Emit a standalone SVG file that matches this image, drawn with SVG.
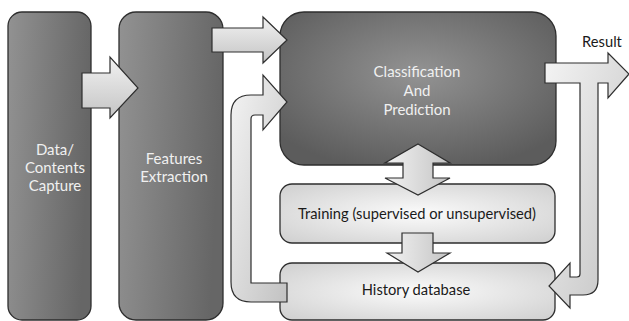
<svg xmlns="http://www.w3.org/2000/svg" width="629" height="321" viewBox="0 0 629 321">
<defs>
<linearGradient id="gDark" x1="0" y1="0" x2="1" y2="0.15">
<stop offset="0" stop-color="#929292"/><stop offset="1" stop-color="#666666"/>
</linearGradient>
<radialGradient id="gCls" cx="0.5" cy="0.4" r="0.65">
<stop offset="0" stop-color="#939393"/><stop offset="1" stop-color="#5c5c5c"/>
</radialGradient>
<radialGradient id="gLight" cx="0.5" cy="0.5" r="0.7">
<stop offset="0" stop-color="#fbfbfb"/><stop offset="1" stop-color="#cfcfcf"/>
</radialGradient>
<linearGradient id="gArrH" x1="0" y1="0" x2="0" y2="1">
<stop offset="0" stop-color="#f2f2f2"/><stop offset="1" stop-color="#c4c4c4"/>
</linearGradient>
<linearGradient id="gArrV" x1="0" y1="0" x2="1" y2="0">
<stop offset="0" stop-color="#f2f2f2"/><stop offset="1" stop-color="#c4c4c4"/>
</linearGradient>
<linearGradient id="gArrD" x1="0" y1="0" x2="1" y2="1">
<stop offset="0" stop-color="#f4f4f4"/><stop offset="1" stop-color="#c2c2c2"/>
</linearGradient>
</defs>
<style>
.dark{fill:url(#gDark);stroke:#2e2e2e;stroke-width:1.3}
.cls{fill:url(#gCls);stroke:#2e2e2e;stroke-width:1.3}
.light{fill:url(#gLight);stroke:#2e2e2e;stroke-width:1.3}
.arr{stroke:#2e2e2e;stroke-width:1.2;stroke-linejoin:miter}
.wt{font-family:Lato,"Open Sans","Liberation Sans",sans-serif;font-size:15px;fill:#f0f0f0;text-anchor:middle}
.bt{font-family:Lato,"Open Sans","Liberation Sans",sans-serif;font-size:14.7px;fill:#1a1a1a;text-anchor:middle}
</style>
<g id="capture">
<rect class="dark" x="8" y="12" width="83" height="308" rx="14"/>
<text class="wt" x="55" y="155">Data/</text>
<text class="wt" x="55" y="173">Contents</text>
<text class="wt" x="55" y="191">Capture</text>
</g>
<g id="features">
<rect class="dark" x="119" y="12" width="104" height="308" rx="17"/>
<text class="wt" x="174" y="164">Features</text>
<text class="wt" x="174" y="182">Extraction</text>
</g>
<g id="classification">
<rect class="cls" x="280" y="12" width="276" height="153" rx="24"/>
<text class="wt" x="417" y="77">Classification</text>
<text class="wt" x="417" y="96">And</text>
<text class="wt" x="417" y="115">Prediction</text>
</g>
<g id="training">
<rect class="light" x="280" y="184" width="275" height="59" rx="12"/>
<text class="bt" x="417" y="219">Training (supervised or unsupervised)</text>
</g>
<g id="history">
<rect class="light" x="280" y="263" width="275" height="57" rx="12"/>
<text class="bt" x="416" y="295">History database</text>
</g>
<g id="connectors">
<path class="arr" fill="url(#gArrH)" d="M82,73 H110 V57 L138,88 L110,118 V108 H82 Z"/>
<path class="arr" fill="url(#gArrH)" d="M212,28 H263 V17 L287,40 L263,63 V52 H212 Z"/>
<path class="arr" fill="url(#gArrD)" d="M287,302 H251 Q231,302 231,282 V115 Q231,95 251,95 H263 V75 L287,102 L263,130 V115 H255 Q251,115 251,119 V283 H287 Z"/>
<path class="arr" fill="url(#gArrD)" d="M545,63 H608 V53 L629,74 L608,98 V83 H598 V280 Q598,295 583,295 H570 V308 L549,286 L570,263 V277 H577 Q580,277 580,274 V83 H545 Z"/>
<path class="arr" fill="url(#gArrV)" d="M418,144 L450,163 H433 V178 H450 L418,195 L385,178 H403 V163 H385 Z"/>
<path class="arr" fill="url(#gArrV)" d="M402,233 H433 V253 H450 L418,272 L387,253 H402 Z"/>
<text x="602" y="47" style="font-family:Lato,'Open Sans','Liberation Sans',sans-serif;font-size:14.7px;fill:#1a1a1a;text-anchor:middle">Result</text>
</g>
</svg>
